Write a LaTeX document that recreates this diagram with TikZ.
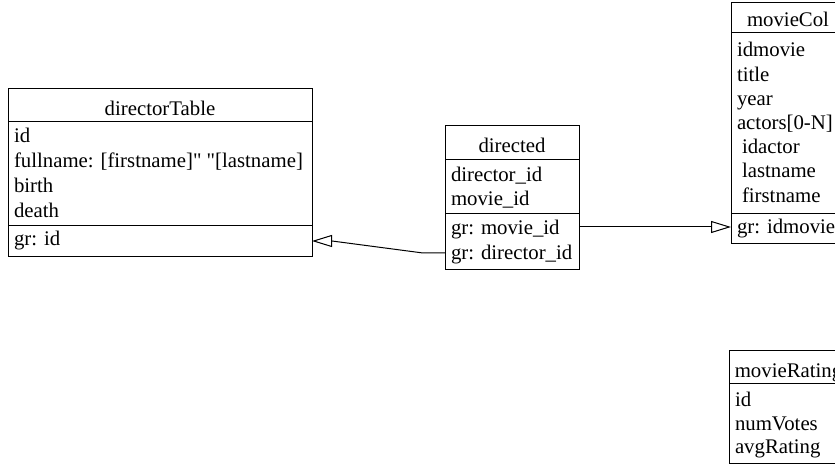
\documentclass[tikz,border=0pt]{standalone}
\usepackage{fontspec}
\setmainfont{Liberation Serif}[Ligatures=TeXOff]
\usetikzlibrary{arrows.meta,calc}

\tikzset{
  frame/.style={draw=black, line width=1bp, fill=white, inner sep=0pt, outer sep=0pt},
  sep/.style={draw=black, line width=1bp},
  field/.style={anchor=base west, inner sep=0pt, outer sep=0pt, font=\fontsize{20.87}{25}\selectfont},
  title/.style={anchor=base, inner sep=0pt, outer sep=0pt, font=\fontsize{20.87}{25}\selectfont},
  link/.style={draw=black, line width=1bp, -{Triangle[open, length=20bp, width=12bp]}}
}

\begin{document}
\begin{tikzpicture}[x=1bp, y=-1bp]
\useasboundingbox (0,0) rectangle (835,466);
\clip (0,0) rectangle (835,466);

% ---------- directorTable ----------
\node[frame, anchor=north west, minimum width=304bp, minimum height=167bp] (dirtable) at (8,89) {};
\draw[sep] (8,122) -- (312,122);
\draw[sep] (8,226) -- (312,226);
\node[title] (dt-title) at (160,116) {directorTable};
\node[field] (dt-id)    at (14,143) {id};
\node[field] (dt-full)  at (14,168) {fullname: [firstname]" "[lastname]};
\node[field] (dt-birth) at (14,193) {birth};
\node[field] (dt-death) at (14,218) {death};
\node[field] (dt-gr)    at (14,246) {gr: id};

% ---------- directed ----------
\node[frame, anchor=north west, minimum width=134bp, minimum height=143bp] (directed) at (445,126) {};
\draw[sep] (445,160) -- (579,160);
\draw[sep] (445,214) -- (579,214);
\node[title] (dd-title) at (512,153) {directed};
\node[field] (dd-dir)   at (451,182) {director\_id};
\node[field] (dd-mov)   at (451,206) {movie\_id};
\node[field] (dd-grm)   at (451,235) {gr: movie\_id};
\node[field] (dd-grd)   at (451,260) {gr: director\_id};

% ---------- movieCol ----------
\node[frame, anchor=north west, minimum width=114bp, minimum height=240bp] (moviecol) at (731,3) {};
\draw[sep] (731,33) -- (845,33);
\draw[sep] (731,214) -- (845,214);
\node[title] (mc-title) at (788,27) {movieCol};
\node[field] (mc-id)     at (737,57)  {idmovie};
\node[field] (mc-title2) at (737,82)  {title};
\node[field] (mc-year)   at (737,106) {year};
\node[field] (mc-actors) at (737,130) {actors[0-N]};
\node[field] (mc-aid)    at (742,154) {idactor};
\node[field] (mc-aln)    at (742,178) {lastname};
\node[field] (mc-afn)    at (742,203) {firstname};
\node[field] (mc-gr)     at (737,234) {gr: idmovie};

% ---------- movieRating ----------
\node[frame, anchor=north west, minimum width=119bp, minimum height=112bp] (movierating) at (729,351) {};
\draw[sep] (729,383) -- (848,383);
\node[title] (mr-title) at (788.5,378) {movieRating};
\node[field] (mr-id)    at (735,406) {id};
\node[field] (mr-votes) at (735,430) {numVotes};
\node[field] (mr-avg)   at (735,453) {avgRating};

% ---------- references ----------
\draw[link] ($(directed.west |- dd-grd.base)+(0,-7)$) -- ++(-22,0)
  -- ($(dirtable.east |- dt-gr.base)+(20,-5)$)
  -- ($(dirtable.east |- dt-gr.base)+(0,-5)$);
\draw[link] ($(directed.east |- dd-grm.base)+(0,-8)$)
  -- ($(moviecol.west |- dd-grm.base)+(0,-8)$);
\end{tikzpicture}
\end{document}
